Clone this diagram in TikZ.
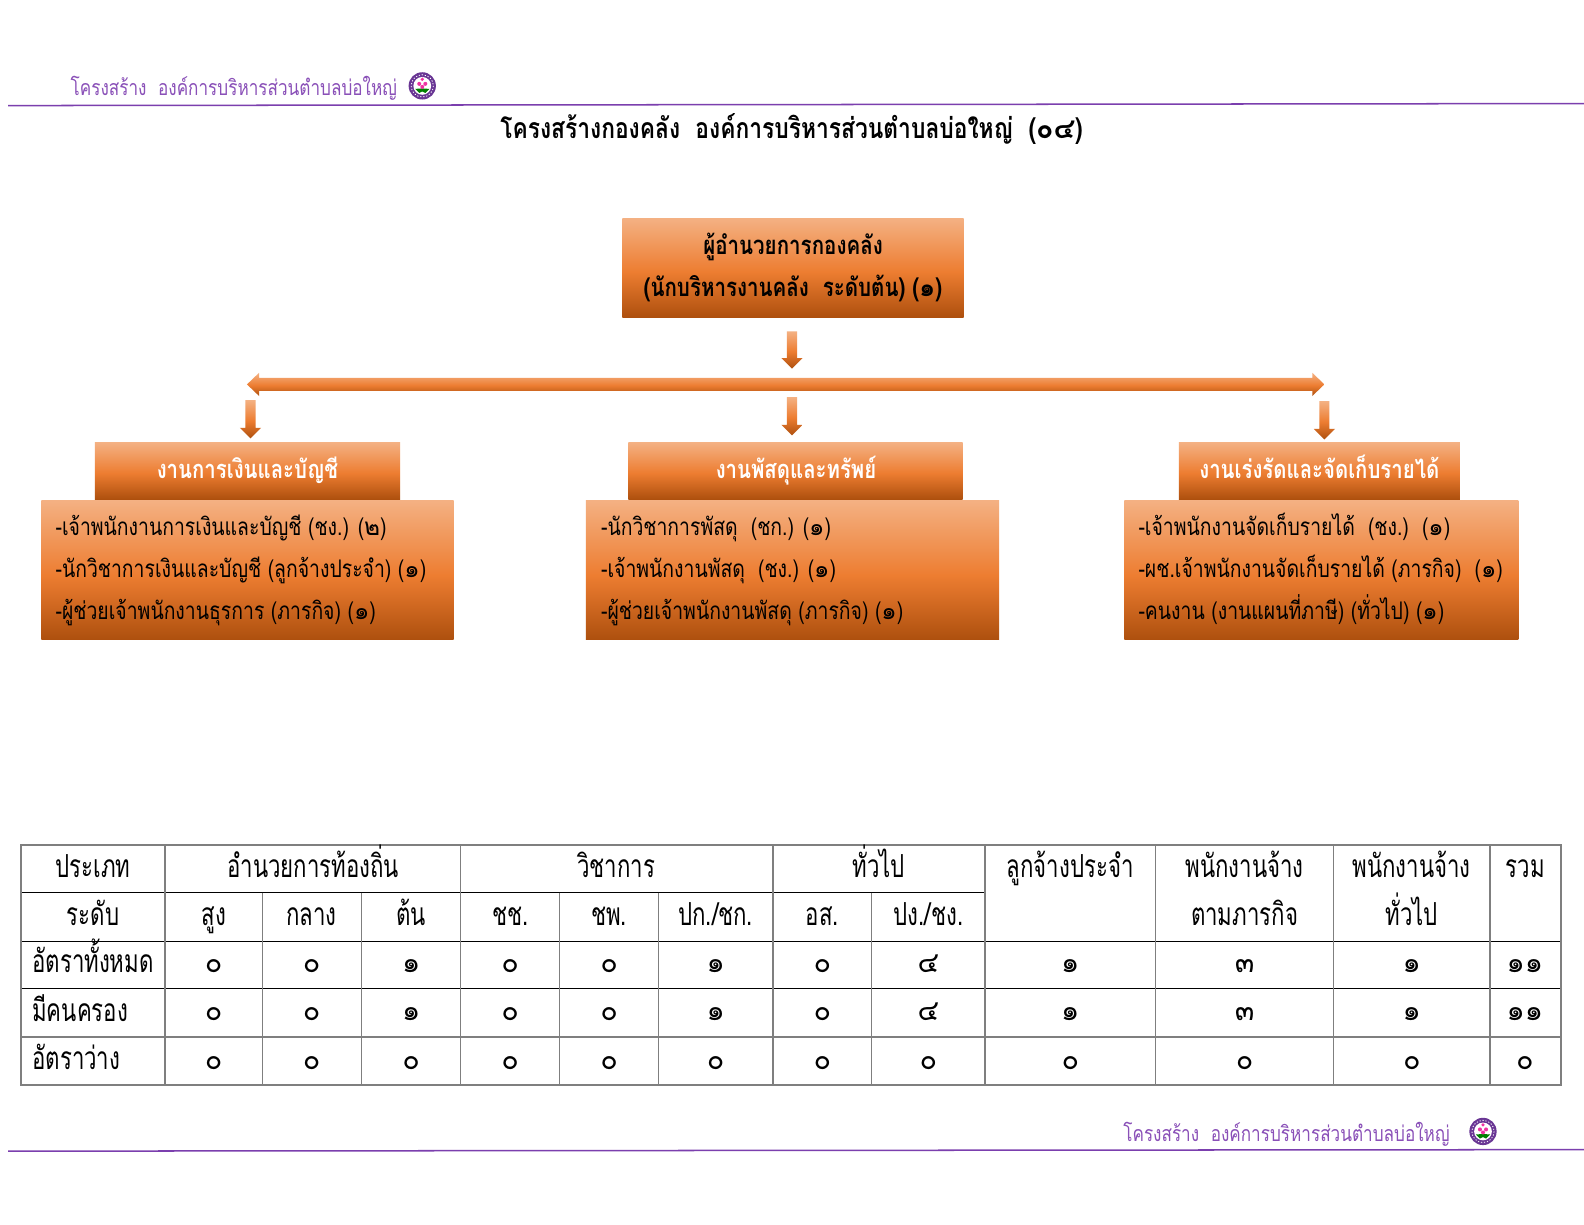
\documentclass[tikz,border=0pt]{standalone}
\usepackage{fontspec}
\usetikzlibrary{calc}
\newfontfamily\thaifont[Script=Thai,FakeStretch=0.8]{Loma}
\newfontfamily\thaitall[Script=Thai,FakeStretch=0.7]{Loma}
\newfontfamily\thaiwide[Script=Thai]{Loma}
\newcommand{\nm}[1]{{\thaiwide #1}}
\definecolor{gtop}{HTML}{F4B183}
\definecolor{gmid}{HTML}{ED7D31}
\definecolor{gbot}{HTML}{AE500E}
\definecolor{linepurple}{HTML}{7B3FAE}
\definecolor{textpurple}{HTML}{8A50B8}
\definecolor{gridgray}{HTML}{7F7F7F}
\pgfdeclareverticalshading{orangeg}{100bp}{color(0bp)=(gbot); color(25bp)=(gbot); color(48bp)=(gmid); color(75bp)=(gtop); color(100bp)=(gtop)}
\tikzset{
 x=0.5pt,y=-0.5pt,
 grad/.style={shading=orangeg},
 txt/.style={inner sep=0pt,outer sep=0pt,font=\thaifont\fontsize{12}{14}\selectfont},
 tl/.style={txt,anchor=base west},
 tc/.style={txt,anchor=base},
 hdtxt/.style={tl,text=textpurple,font=\thaifont\fontsize{10.6}{13}\selectfont},
 boxb/.style={tc,font=\thaifont\bfseries\fontsize{12.7}{14}\selectfont},
 headw/.style={tc,text=white,font=\thaifont\bfseries\fontsize{12.6}{14}\selectfont},
 cell/.style={inner sep=0pt,outer sep=0pt,font=\thaitall\fontsize{15.7}{18}\selectfont,anchor=base},
 celll/.style={cell,anchor=base west},
 numcell/.style={inner sep=0pt,outer sep=0pt,anchor=base,font=\thaiwide\fontsize{14.2}{18}\selectfont},
 outer/.style={draw=gridgray,line width=1pt},
 inner/.style={draw=black,line width=0.5pt},
 innerg/.style={draw=gridgray,line width=0.6pt},
}
\newcommand{\logo}[2]{%
 \begin{scope}[shift={(#1,#2)}]
  \fill[linepurple!85!black] (0,0) circle (13.5);
  \draw[white,line width=0.4pt,dash pattern=on 0.6pt off 0.9pt] (0,0) circle (11);
  \fill[white] (0,0) circle (8.8);
  \fill[green!50!black] (-7,3) -- (-3,7) -- (0,5.5) -- (3,7) -- (7,3) -- (0,2.5) -- cycle;
  \fill[magenta!80!white] (0,-6.5) circle (1.8);
  \fill[magenta!80!white] (-3,-2) circle (2);
  \fill[magenta!80!white] (3,-2) circle (2);
  \fill[magenta!80!white] (0,1) circle (2);
 \end{scope}}
\newcommand{\arrowdown}[2]{%
 \path[grad] ($(#1)+(-5,0)$) -- ($(#1)+(5,0)$) -- ($(#2)+(5,-10.5)$) -- ($(#2)+(10.5,-10.5)$) -- (#2) -- ($(#2)+(-10.5,-10.5)$) -- ($(#2)+(-5,-10.5)$) -- cycle;}
\begin{document}
\begin{tikzpicture}
\useasboundingbox (0,0) rectangle (1568,1212);
\fill[white] (0,0) rectangle (1568,1212);
% header / footer
\draw[linepurple,line width=0.75pt] (8,104.5) coordinate (hl) -- (1568,102.5) coordinate (hr);
\draw[linepurple,line width=0.75pt] (8,1139.5) coordinate (fl) -- (1568,1138) coordinate (fr);
\node[hdtxt] (hdr) at (70,95) {โครงสร้าง~~องค์การบริหารส่วนตำบลบ่อใหญ่};
\node[hdtxt] (ftr) at (1112,1130) {โครงสร้าง~~องค์การบริหารส่วนตำบลบ่อใหญ่};
\logo{418}{85}
\logo{1468}{1120}
\node[tc,font=\thaifont\bfseries\fontsize{14.1}{16}\selectfont] (title) at (783.5,137) {โครงสร้างกองคลัง~~องค์การบริหารส่วนตำบลบ่อใหญ่~~(\nm{๐๔})};
% top box
\path[grad] (616,216) rectangle (954,314);
\node[boxb] (top1) at (785,252) {ผู้อำนวยการกองคลัง};
\node[boxb] (top2) at (785,293) {(นักบริหารงานคลัง~~ระดับต้น) (\nm{๑})};
% arrows
\coordinate (a0s) at (784,328); \coordinate (a0e) at (784,365);
\coordinate (a1s) at (248,396); \coordinate (a1e) at (248,434);
\coordinate (a2s) at (784,393); \coordinate (a2e) at (784,431);
\coordinate (a3s) at (1311,397); \coordinate (a3e) at (1311,435);
\arrowdown{a0s}{a0e}
\arrowdown{a1s}{a1e}
\arrowdown{a2s}{a2e}
\arrowdown{a3s}{a3e}
\coordinate (busl) at (244.5,380.5); \coordinate (busr) at (1311,380.5);
\path[grad] (busl) -- ($(busl)+(12,-11.5)$) -- ($(busl)+(12,-6.5)$) -- ($(busr)+(-12,-6.5)$) -- ($(busr)+(-12,-11.5)$) -- (busr) -- ($(busr)+(-12,11.5)$) -- ($(busr)+(-12,6.5)$) -- ($(busl)+(12,6.5)$) -- ($(busl)+(12,11.5)$) -- cycle;
% section heads
\path[grad] (94,438) rectangle (396,494);
\path[grad] (622,438) rectangle (953,494);
\path[grad] (1167,438) rectangle (1445,494);
\node[headw] (h1) at (245,474) {งานการเงินและบัญชี};
\node[headw] (h2) at (788,474) {งานพัสดุและทรัพย์};
\node[headw] (h3) at (1306,474) {งานเร่งรัดและจัดเก็บรายได้};
% bodies
\path[grad] (41,495) rectangle (449,633);
\path[grad] (580,495) rectangle (989,633);
\path[grad] (1113,495) rectangle (1503,633);
\node[tl] (b11) at (55,530) {-เจ้าพนักงานการเงินและบัญชี (ชง.) (\nm{๒})};
\node[tl] (b12) at (55,572) {-นักวิชาการเงินและบัญชี (ลูกจ้างประจำ) (\nm{๑})};
\node[tl] (b13) at (55,613) {-ผู้ช่วยเจ้าพนักงานธุรการ (ภารกิจ) (\nm{๑})};
\node[tl] (b21) at (595,530) {-นักวิชาการพัสดุ~~(ชก.) (\nm{๑})};
\node[tl] (b22) at (595,572) {-เจ้าพนักงานพัสดุ~~(ชง.) (\nm{๑})};
\node[tl] (b23) at (595,613) {-ผู้ช่วยเจ้าพนักงานพัสดุ (ภารกิจ) (\nm{๑})};
\node[tl] (b31) at (1127,530) {-เจ้าพนักงานจัดเก็บรายได้~~(ชง.)~~(\nm{๑})};
\node[tl] (b32) at (1127,572) {-ผช.เจ้าพนักงานจัดเก็บรายได้ (ภารกิจ)~~(\nm{๑})};
\node[tl] (b33) at (1127,613) {-คนงาน (งานแผนที่ภาษี) (ทั่วไป) (\nm{๑})};
% table grid
\foreach \y in {931.5,978.5} \draw[inner] (21,\y) -- (1545,\y);
\draw[innerg] (21,1026.5) -- (1545,1026.5);
\draw[inner] (21,883.5) -- (975,883.5);
\foreach \x in {259.5,357.5,554,652,863} \draw[innerg] (\x,883.5) -- (\x,1074);
\foreach \x in {163.5,456,765,975,1144,1320,1475} \draw[innerg,line width=0.75pt] (\x,836) -- (\x,1074);
\draw[outer] (21,836) rectangle (1545,1074);
% table header
\node[cell] (c1) at (92,868.5) {ประเภท};
\node[cell] (c2) at (310,868.5) {อำนวยการท้องถิ่น};
\node[cell] (c3) at (610,868.5) {วิชาการ};
\node[cell] (c4) at (870,868.5) {ทั่วไป};
\node[cell] (c5) at (1059.5,868.5) {ลูกจ้างประจำ};
\node[cell] (c6) at (1232,868.5) {พนักงานจ้าง};
\node[cell] (c7) at (1397.5,868.5) {พนักงานจ้าง};
\node[cell] (c8) at (1510,868.5) {รวม};
\node[cell] (d1) at (92,916) {ระดับ};
\node[cell] (d2) at (211.5,916) {สูง};
\node[cell] (d3) at (308.5,916) {กลาง};
\node[cell] (d4) at (407,916) {ต้น};
\node[cell] (d5) at (505,916) {ชช.};
\node[cell] (d6) at (603,916) {ชพ.};
\node[cell] (d7) at (708.5,916) {ปก./ชก.};
\node[cell] (d8) at (814,916) {อส.};
\node[cell] (d9) at (919,916) {ปง./ชง.};
\node[cell] (d10) at (1232,916) {ตามภารกิจ};
\node[cell] (d11) at (1397.5,916) {ทั่วไป};
\node[celll] (r1) at (32,963) {อัตราทั้งหมด};
\node[celll] (r2) at (32,1011) {มีคนครอง};
\node[celll] (r3) at (32,1059) {อัตราว่าง};
% table numbers
\newcommand{\numrow}[2]{%
 \foreach \cx/\v in {#2} {\node[numcell] at (\cx,#1) {\v};}}
\numrow{962.5}{211.5/๐,308.5/๐,407/๑,505/๐,603/๐,708.5/๑,814/๐,919/๔,1059.5/๑,1232/๓,1397.5/๑,1509.5/๑๑}
\numrow{1010.5}{211.5/๐,308.5/๐,407/๑,505/๐,603/๐,708.5/๑,814/๐,919/๔,1059.5/๑,1232/๓,1397.5/๑,1509.5/๑๑}
\numrow{1058.5}{211.5/๐,308.5/๐,407/๐,505/๐,603/๐,708.5/๐,814/๐,919/๐,1059.5/๐,1232/๐,1397.5/๐,1509.5/๐}
\end{tikzpicture}
\end{document}
